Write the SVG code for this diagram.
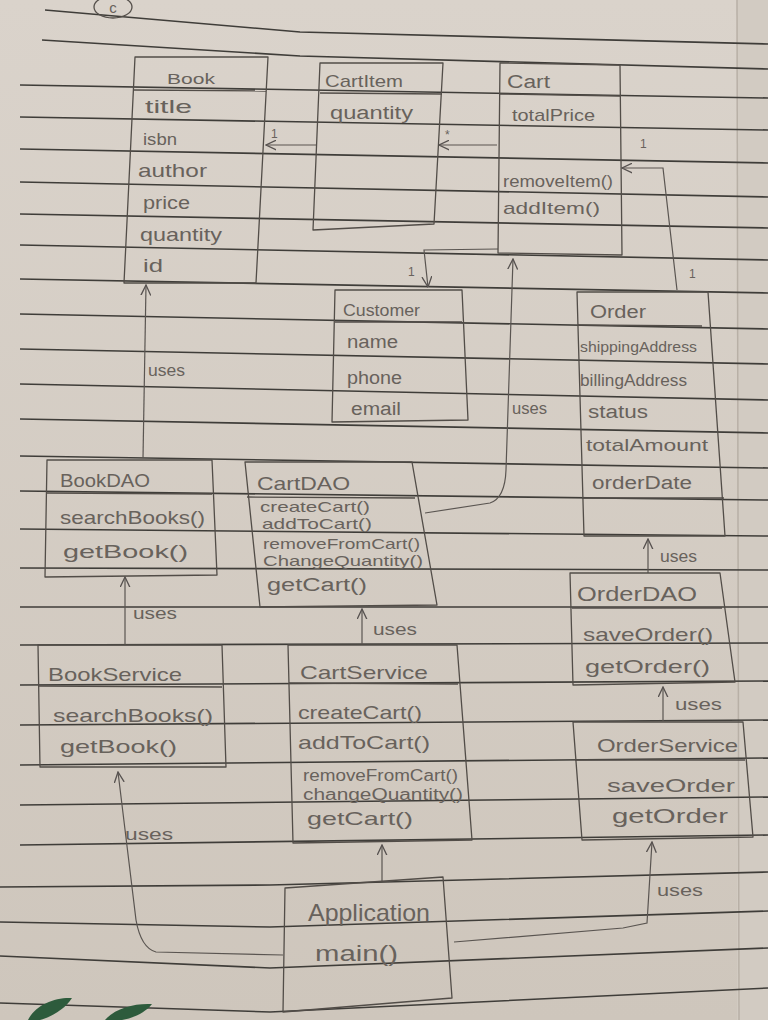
<svg xmlns="http://www.w3.org/2000/svg" width="768" height="1020" viewBox="0 0 768 1020">
<defs>
<linearGradient id="paper" x1="0" y1="0" x2="0" y2="1">
<stop offset="0" stop-color="#dad3cb"/>
<stop offset="1" stop-color="#cec6bc"/>
</linearGradient>
<marker id="arr" viewBox="0 0 10 10" refX="9.5" refY="5" markerWidth="11" markerHeight="11" markerUnits="userSpaceOnUse" orient="auto">
<path d="M0,0.5 L9.5,5 L0,9.5" fill="none" stroke="#575250" stroke-width="1.2"/>
</marker>
<style>
.rule{fill:none;stroke:#3f3d39;stroke-width:1.6}
.box{fill:none;stroke:#524d48;stroke-width:1.3;stroke-linejoin:round}
.div{fill:none;stroke:#524d48;stroke-width:1.3}
.con{fill:none;stroke:#5a5551;stroke-width:1.2}
text{font-family:"Liberation Sans",Arial,sans-serif;fill:#68625c}
.lbl{font-size:16px}
.mult{font-size:12px}
</style>
</defs>
<rect x="0" y="0" width="768" height="1020" fill="url(#paper)"/>
<rect x="737" y="0" width="31" height="1020" fill="#d2cbc2"/>
<line x1="737" y1="0" x2="739" y2="1020" stroke="#b8b0a6" stroke-width="1.5"/>
<g id="ruled-lines">
<polyline class="rule" points="45,10 300,32 768,44"/>
<polyline class="rule" points="42,40 300,56 768,69"/>
<polyline class="rule" points="20,85 768,98"/>
<polyline class="rule" points="20,117 768,130"/>
<polyline class="rule" points="20,149 768,163"/>
<polyline class="rule" points="20,182 768,197"/>
<polyline class="rule" points="20,214 768,228"/>
<polyline class="rule" points="20,245 768,260"/>
<polyline class="rule" points="20,279 768,293"/>
<polyline class="rule" points="20,314 768,329"/>
<polyline class="rule" points="20,349 768,364"/>
<polyline class="rule" points="20,384 768,400"/>
<polyline class="rule" points="20,419 768,433"/>
<polyline class="rule" points="20,456 768,468"/>
<polyline class="rule" points="20,491 768,500"/>
<polyline class="rule" points="20,529 768,536"/>
<polyline class="rule" points="20,568 768,570"/>
<polyline class="rule" points="20,607 768,607"/>
<polyline class="rule" points="20,645 768,643"/>
<polyline class="rule" points="20,685 768,681"/>
<polyline class="rule" points="20,725 768,720"/>
<polyline class="rule" points="20,765 768,758"/>
<polyline class="rule" points="20,805 768,797"/>
<polyline class="rule" points="20,845 768,835"/>
<polyline class="rule" points="0,887 270,885 768,872"/>
<polyline class="rule" points="0,922 270,927 768,911"/>
<polyline class="rule" points="0,956 270,968 768,948"/>
<polyline class="rule" points="0,1003 270,1012 768,988"/>
</g>
<g id="page-mark">
<ellipse cx="113" cy="7" rx="19" ry="11" fill="none" stroke="#55504b" stroke-width="1.3"/>
<text x="113" y="13" font-size="15" text-anchor="middle">c</text>
</g>
<g id="leaves">
<path d="M28,1020 C35,1005 55,997 72,998 C66,1008 52,1017 40,1020 Z" fill="#2d5b3c"/>
<path d="M105,1020 C115,1008 135,1003 152,1004 C146,1012 134,1018 122,1020 Z" fill="#2d5b3c"/>
</g>

<g id="connectors">
<path class="con" d="M317,145 L266,145" marker-end="url(#arr)"/>
<text class="mult" x="271" y="138">1</text>
<path class="con" d="M497,145 L439,145" marker-end="url(#arr)"/>
<text class="mult" x="445" y="139" font-size="14">*</text>
<path class="con" d="M677,290 L663,168 L622,168" marker-end="url(#arr)"/>
<text class="mult" x="640" y="148">1</text>
<text class="mult" x="689" y="278">1</text>
<path class="con" d="M498,249 L424,250 L428,287" marker-end="url(#arr)"/>
<text class="mult" x="408" y="276">1</text>
<path class="con" d="M425,513 L490,503 Q505,498 506,470 L513,259" marker-end="url(#arr)"/>
<text class="lbl" x="512" y="414" textLength="35" lengthAdjust="spacingAndGlyphs">uses</text>
<path class="con" d="M143,458 L146,285" marker-end="url(#arr)"/>
<text class="lbl" x="148" y="376" textLength="37" lengthAdjust="spacingAndGlyphs">uses</text>
<path class="con" d="M125,645 L125,577" marker-end="url(#arr)"/>
<text class="lbl" x="133" y="619" textLength="44" lengthAdjust="spacingAndGlyphs">uses</text>
<path class="con" d="M362,645 L362,609" marker-end="url(#arr)"/>
<text class="lbl" x="373" y="635" textLength="44" lengthAdjust="spacingAndGlyphs">uses</text>
<path class="con" d="M648,573 L648,539" marker-end="url(#arr)"/>
<text class="lbl" x="660" y="562" textLength="37" lengthAdjust="spacingAndGlyphs">uses</text>
<path class="con" d="M663,721 L663,687" marker-end="url(#arr)"/>
<text class="lbl" x="675" y="710" textLength="47" lengthAdjust="spacingAndGlyphs">uses</text>
<path class="con" d="M283,955 L156,952 Q141,948 136,920 L118,772" marker-end="url(#arr)"/>
<text class="lbl" x="125" y="840" textLength="48" lengthAdjust="spacingAndGlyphs">uses</text>
<path class="con" d="M382,881 L382,845" marker-end="url(#arr)"/>
<path class="con" d="M454,942 L623,928 L647,923 L652,842" marker-end="url(#arr)"/>
<text class="lbl" x="657" y="896" textLength="46" lengthAdjust="spacingAndGlyphs">uses</text>
</g>

<g id="Book">
<polygon class="box" points="135,57 268,57 256,283 124,283"/>
<line class="div" x1="134" y1="90" x2="266" y2="91"/>
<text x="167" y="84" font-size="15" textLength="48" lengthAdjust="spacingAndGlyphs">Book</text>
<text x="145" y="113" font-size="19" textLength="47" lengthAdjust="spacingAndGlyphs">title</text>
<text x="143" y="145" font-size="17" textLength="34" lengthAdjust="spacingAndGlyphs">isbn</text>
<text x="138" y="177" font-size="19" textLength="69" lengthAdjust="spacingAndGlyphs">author</text>
<text x="143" y="209" font-size="18" textLength="47" lengthAdjust="spacingAndGlyphs">price</text>
<text x="140" y="241" font-size="19" textLength="82" lengthAdjust="spacingAndGlyphs">quantity</text>
<text x="143" y="272" font-size="19" textLength="20" lengthAdjust="spacingAndGlyphs">id</text>
</g>

<g id="CartItem">
<polygon class="box" points="320,63 443,63 434,224 313,230"/>
<line class="div" x1="320" y1="93" x2="442" y2="94"/>
<text x="325" y="87" font-size="17" textLength="78" lengthAdjust="spacingAndGlyphs">CartItem</text>
<text x="330" y="119" font-size="18" textLength="83" lengthAdjust="spacingAndGlyphs">quantity</text>
</g>

<g id="Cart">
<polygon class="box" points="500,63 620,65 622,255 498,253"/>
<line class="div" x1="500" y1="94" x2="620" y2="96"/>
<text x="507" y="88" font-size="18" textLength="43" lengthAdjust="spacingAndGlyphs">Cart</text>
<text x="512" y="121" font-size="17" textLength="83" lengthAdjust="spacingAndGlyphs">totalPrice</text>
<text x="503" y="187" font-size="16" textLength="110" lengthAdjust="spacingAndGlyphs">removeItem()</text>
<text x="503" y="214" font-size="17" textLength="97" lengthAdjust="spacingAndGlyphs">addItem()</text>
</g>

<g id="Customer">
<polygon class="box" points="335,290 462,290 468,420 332,422"/>
<line class="div" x1="335" y1="322" x2="462" y2="322"/>
<text x="343" y="316" font-size="17" textLength="77" lengthAdjust="spacingAndGlyphs">Customer</text>
<text x="347" y="348" font-size="18" textLength="51" lengthAdjust="spacingAndGlyphs">name</text>
<text x="347" y="384" font-size="18" textLength="55" lengthAdjust="spacingAndGlyphs">phone</text>
<text x="351" y="415" font-size="18" textLength="50" lengthAdjust="spacingAndGlyphs">email</text>
</g>

<g id="Order">
<polygon class="box" points="577,292 708,292 725,536 584,536"/>
<line class="div" x1="578" y1="325" x2="702" y2="326"/>
<line class="div" x1="582" y1="498" x2="724" y2="498"/>
<text x="590" y="318" font-size="18" textLength="56" lengthAdjust="spacingAndGlyphs">Order</text>
<text x="580" y="352" font-size="15" textLength="117" lengthAdjust="spacingAndGlyphs">shippingAddress</text>
<text x="580" y="386" font-size="16" textLength="107" lengthAdjust="spacingAndGlyphs">billingAddress</text>
<text x="588" y="418" font-size="18" textLength="60" lengthAdjust="spacingAndGlyphs">status</text>
<text x="586" y="451" font-size="17" textLength="122" lengthAdjust="spacingAndGlyphs">totalAmount</text>
<text x="592" y="489" font-size="18" textLength="100" lengthAdjust="spacingAndGlyphs">orderDate</text>
</g>

<g id="BookDAO">
<polygon class="box" points="47,460 212,460 217,575 45,577"/>
<line class="div" x1="47" y1="493" x2="212" y2="494"/>
<text x="60" y="487" font-size="18" textLength="90" lengthAdjust="spacingAndGlyphs">BookDAO</text>
<text x="60" y="524" font-size="19" textLength="145" lengthAdjust="spacingAndGlyphs">searchBooks()</text>
<text x="63" y="558" font-size="19" textLength="125" lengthAdjust="spacingAndGlyphs">getBook()</text>
</g>

<g id="CartDAO">
<polygon class="box" points="245,462 412,462 437,605 260,607"/>
<line class="div" x1="247" y1="497" x2="415" y2="498"/>
<text x="257" y="490" font-size="19" textLength="93" lengthAdjust="spacingAndGlyphs">CartDAO</text>
<text x="260" y="512" font-size="15" textLength="110" lengthAdjust="spacingAndGlyphs">createCart()</text>
<text x="262" y="529" font-size="15" textLength="110" lengthAdjust="spacingAndGlyphs">addToCart()</text>
<text x="263" y="549" font-size="15" textLength="157" lengthAdjust="spacingAndGlyphs">removeFromCart()</text>
<text x="263" y="566" font-size="15" textLength="160" lengthAdjust="spacingAndGlyphs">ChangeQuantity()</text>
<text x="267" y="591" font-size="18" textLength="100" lengthAdjust="spacingAndGlyphs">getCart()</text>
</g>

<g id="BookService">
<polygon class="box" points="38,645 222,645 226,767 40,767"/>
<line class="div" x1="38" y1="686" x2="222" y2="687"/>
<text x="48" y="681" font-size="19" textLength="134" lengthAdjust="spacingAndGlyphs">BookService</text>
<text x="53" y="722" font-size="19" textLength="160" lengthAdjust="spacingAndGlyphs">searchBooks()</text>
<text x="60" y="753" font-size="19" textLength="117" lengthAdjust="spacingAndGlyphs">getBook()</text>
</g>

<g id="CartService">
<polygon class="box" points="288,645 457,645 472,840 293,843"/>
<line class="div" x1="289" y1="683" x2="458" y2="684"/>
<text x="300" y="679" font-size="19" textLength="128" lengthAdjust="spacingAndGlyphs">CartService</text>
<text x="298" y="719" font-size="19" textLength="124" lengthAdjust="spacingAndGlyphs">createCart()</text>
<text x="298" y="749" font-size="19" textLength="132" lengthAdjust="spacingAndGlyphs">addToCart()</text>
<text x="303" y="781" font-size="16" textLength="155" lengthAdjust="spacingAndGlyphs">removeFromCart()</text>
<text x="303" y="800" font-size="16" textLength="160" lengthAdjust="spacingAndGlyphs">changeQuantity()</text>
<text x="307" y="825" font-size="19" textLength="106" lengthAdjust="spacingAndGlyphs">getCart()</text>
</g>

<g id="OrderDAO">
<polygon class="box" points="570,573 720,573 735,682 573,685"/>
<line class="div" x1="572" y1="608" x2="722" y2="608"/>
<text x="577" y="601" font-size="20" textLength="120" lengthAdjust="spacingAndGlyphs">OrderDAO</text>
<text x="583" y="641" font-size="19" textLength="130" lengthAdjust="spacingAndGlyphs">saveOrder()</text>
<text x="585" y="673" font-size="19" textLength="125" lengthAdjust="spacingAndGlyphs">getOrder()</text>
</g>

<g id="OrderService">
<polygon class="box" points="573,722 743,722 753,837 582,840"/>
<line class="div" x1="575" y1="760" x2="745" y2="760"/>
<text x="597" y="752" font-size="19" textLength="141" lengthAdjust="spacingAndGlyphs">OrderService</text>
<text x="607" y="792" font-size="19" textLength="128" lengthAdjust="spacingAndGlyphs">saveOrder</text>
<text x="612" y="823" font-size="20" textLength="116" lengthAdjust="spacingAndGlyphs">getOrder</text>
</g>

<g id="Application">
<polygon class="box" points="285,888 443,877 452,998 283,1012"/>
<text x="308" y="921" font-size="24" textLength="122" lengthAdjust="spacingAndGlyphs">Application</text>
<text x="315" y="961" font-size="22" textLength="83" lengthAdjust="spacingAndGlyphs">main()</text>
</g>
</svg>
